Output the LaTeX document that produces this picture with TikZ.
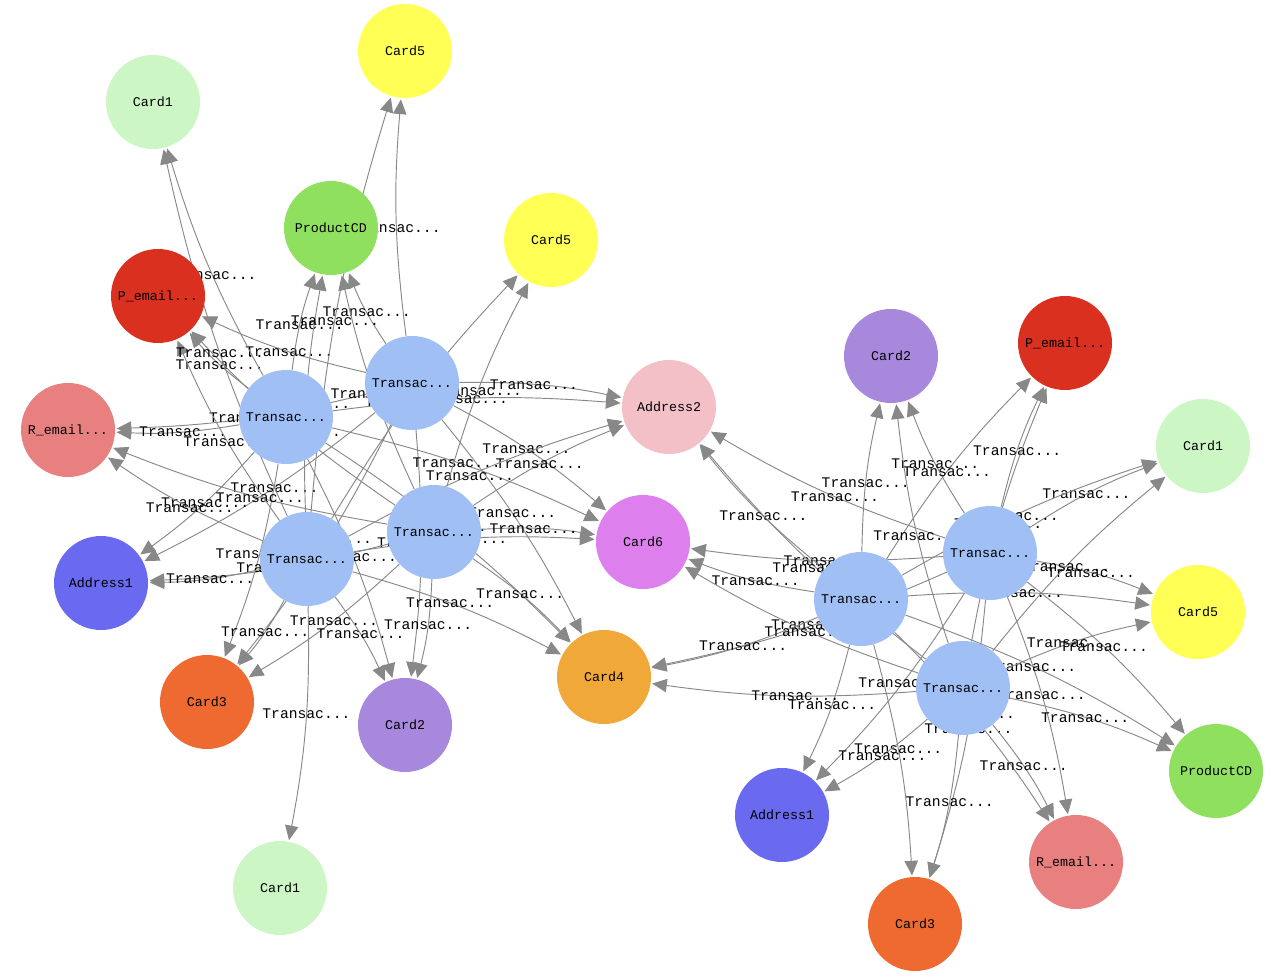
\documentclass[tikz,border=0pt]{standalone}
\usepackage{fontspec}
\setmonofont{Liberation Mono}
\usetikzlibrary{arrows.meta,backgrounds}
\definecolor{ctr}{HTML}{A0C0F5}
\definecolor{cca}{HTML}{CCF7C5}
\definecolor{ccv}{HTML}{FFFF55}
\definecolor{cpd}{HTML}{90E060}
\definecolor{cpe}{HTML}{D93020}
\definecolor{cre}{HTML}{E88080}
\definecolor{cad}{HTML}{6A6AF0}
\definecolor{cct}{HTML}{EE6A30}
\definecolor{ccb}{HTML}{A888DD}
\definecolor{ccf}{HTML}{F0A838}
\definecolor{ccs}{HTML}{DD80EE}
\definecolor{cas}{HTML}{F4C0C8}
\definecolor{edg}{HTML}{888888}
\tikzset{
 vx/.style={circle,minimum size=70.5pt,inner sep=0pt,font=\ttfamily\fontsize{10}{12}\selectfont},
 ed/.style={draw=edg,line width=0.7pt,bend left=6,-{Triangle[length=11pt,width=10pt]},shorten >=1pt},
 lb/.style={font=\ttfamily\fontsize{11}{12}\selectfont,inner sep=1pt}
}
\begin{document}
\begin{tikzpicture}[x=0.75pt,y=-0.75pt]
\useasboundingbox (0,0) rectangle (1288,980);
\node[vx,fill=cca] (c1a) at (153,102) {Card1};
\node[vx,fill=ccv] (c5a) at (405,51) {Card5};
\node[vx,fill=cpd] (pda) at (331,228) {ProductCD};
\node[vx,fill=ccv] (c5b) at (551,240) {Card5};
\node[vx,fill=cpe] (pea) at (158,296) {P\_email...};
\node[vx,fill=cre] (rea) at (68,430) {R\_email...};
\node[vx,fill=cad] (ada) at (101,583) {Address1};
\node[vx,fill=cct] (c3a) at (207,702) {Card3};
\node[vx,fill=ccb] (c2a) at (405,725) {Card2};
\node[vx,fill=cca] (c1b) at (280,888) {Card1};
\node[vx,fill=ccf] (c4) at (604,677) {Card4};
\node[vx,fill=ccs] (c6) at (643,542) {Card6};
\node[vx,fill=cas] (a2) at (669,407) {Address2};
\node[vx,fill=ccb] (c2b) at (891,356) {Card2};
\node[vx,fill=cpe] (peb) at (1065,343) {P\_email...};
\node[vx,fill=cca] (c1c) at (1203,446) {Card1};
\node[vx,fill=ccv] (c5c) at (1198,612) {Card5};
\node[vx,fill=cpd] (pdb) at (1216,771) {ProductCD};
\node[vx,fill=cre] (reb) at (1076,862) {R\_email...};
\node[vx,fill=cct] (c3b) at (915,924) {Card3};
\node[vx,fill=cad] (adb) at (782,815) {Address1};
\node[vx,fill=ctr] (t1) at (412,383) {Transac...};
\node[vx,fill=ctr] (t2) at (286,417) {Transac...};
\node[vx,fill=ctr] (t3) at (434,532) {Transac...};
\node[vx,fill=ctr] (t4) at (307,559) {Transac...};
\node[vx,fill=ctr] (t5) at (990,553) {Transac...};
\node[vx,fill=ctr] (t6) at (861,599) {Transac...};
\node[vx,fill=ctr] (t7) at (963,688) {Transac...};
\begin{pgfonlayer}{background}
\fill[white] (0,0) rectangle (1288,980);
\foreach \t in {t1,t2,t3,t4}{
 \foreach \a in {pda,pea,rea,ada,c3a,c2a,c4,c6,a2}{
  \draw[ed] (\t) to node[lb,pos=0.45]{Transac...} (\a);
 }
}
\foreach \t/\a in {t1/c5a,t4/c5a,t3/c5b,t4/c5b,t2/c1a,t4/c1a,t4/c1b}{
  \draw[ed] (\t) to node[lb,pos=0.45]{Transac...} (\a);
}
\foreach \t in {t5,t6,t7}{
 \foreach \a in {c2b,peb,c1c,c5c,pdb,reb,c3b,adb,c4,c6,a2}{
  \draw[ed] (\t) to node[lb,pos=0.45]{Transac...} (\a);
 }
}
\end{pgfonlayer}
\end{tikzpicture}
\end{document}
